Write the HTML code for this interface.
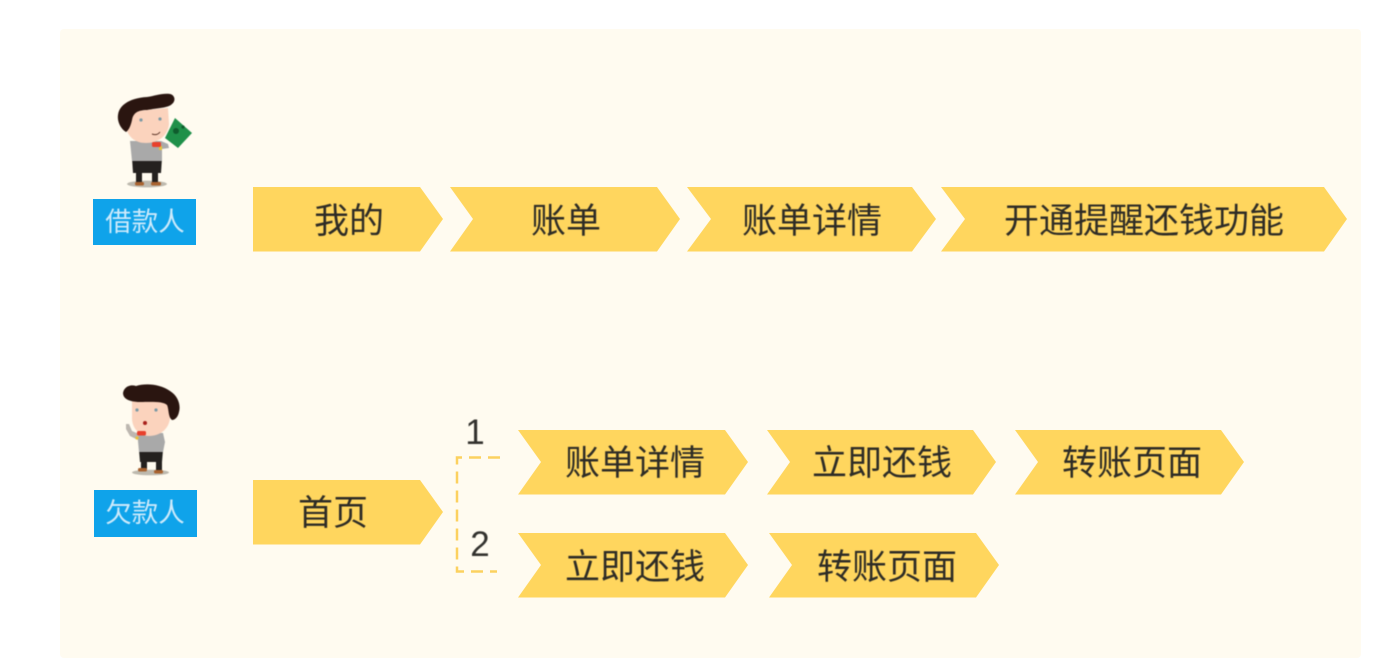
<!DOCTYPE html>
<html lang="zh">
<head>
<meta charset="utf-8">
<title>借款人 欠款人 流程</title>
<style>
html,body{margin:0;padding:0;background:#fff;width:1400px;height:658px;overflow:hidden}
svg{display:block}
.t{font-family:"Liberation Sans","Noto Sans CJK SC",sans-serif;font-size:35px;fill:#2e2c26;text-anchor:middle}
.l{font-family:"Liberation Sans","Noto Sans CJK SC",sans-serif;font-size:26.5px;fill:#cdeafb;text-anchor:middle}
.n{font-family:"Liberation Sans",sans-serif;font-size:35px;fill:#33322e;text-anchor:middle}
.soft{filter:blur(.45px)}
.softer{filter:blur(.6px)}
</style>
</head>
<body>
<svg width="1400" height="658" viewBox="0 0 1400 658" xmlns="http://www.w3.org/2000/svg">
<rect x="60" y="29" width="1301" height="629" rx="4" fill="#fffbf0"/>

<!-- Character 1 -->
<g class="softer">
<ellipse cx="147" cy="184" rx="20" ry="3.400" fill="#bdb9ae"/>
<path d="M132 158 H162 L161 173 H133 Z" fill="#24211f"/>
<rect x="136" y="170" width="6" height="14" fill="#24211f"/>
<rect x="152" y="170" width="6" height="14" fill="#24211f"/>
<rect x="135" y="182" width="9" height="3.500" rx="1.500" fill="#a8622f"/>
<rect x="151" y="182" width="10" height="3.500" rx="1.500" fill="#a8622f"/>
<path d="M130 141 L161 141 L168 144 L169 148 L162 149 L162 161 L132 161 Z" fill="#a9a9a9"/>
<rect x="159" y="146" width="3" height="4" fill="#e7c23c"/>
<path d="M125 112 L168 108 L169 124 C168 136 158 143 146 143 C134 143 127 136 125 124 Z" fill="#fbd3bd"/>
<path d="M118 115 C119 105 130 98 147 97 C155 96 162 93 170 94 C175 95 176 101 172 104 C168 108 158 108 147 110 C138 110 133 113 132 120 C131 125 129 130 126 132 C121 129 117 122 118 115 Z" fill="#2a1510"/>
<rect x="152" y="142" width="9" height="5" rx="1.500" fill="#e8402c"/>
<polygon points="175,118 192,133 178,148 165,138" fill="#1f9049"/>
<circle cx="176" cy="131" r="3" fill="#0f5c2d"/>
<circle cx="183" cy="127" r="1.600" fill="#0f5c2d"/>
<circle cx="141" cy="120" r="1.600" fill="#7b9aa5"/>
<circle cx="160" cy="119" r="1.600" fill="#7b9aa5"/>
<path d="M152 134 Q157 136 160 132" stroke="#5b3326" stroke-width="1" fill="none"/>
</g>
<rect x="93" y="199" width="103" height="46" fill="#0fa3ea"/>
<text class="l soft" x="145" y="231">借款人</text>

<!-- Character 2 -->
<g class="softer">
<ellipse cx="150.500" cy="472.500" rx="18.500" ry="2.800" fill="#bdb9ae"/>
<path d="M139 450 H163 L162 462 H140 Z" fill="#24211f"/>
<rect x="141" y="460" width="6" height="10" fill="#24211f"/>
<rect x="156" y="460" width="6" height="11" fill="#24211f"/>
<rect x="138" y="468" width="9" height="3.500" rx="1.500" fill="#a8622f"/>
<rect x="154" y="470" width="9" height="3.500" rx="1.500" fill="#a8622f"/>
<path d="M138 433 L163 433 L165 442 L163 452 L139 452 L138 441 Z" fill="#a9a9a9"/>
<path d="M126 424 L129 424 L132 431 L139 434 L138 440 L130 436 L126 429 Z" fill="#bdb7b0"/>
<circle cx="137" cy="438" r="1.600" fill="#e7c23c"/>
<path d="M132 400 H170 V418 C169 429 160 436 149 436 C139 436 132 428 132 418 Z" fill="#fbd3bd"/>
<path d="M123 393 C124 387 130 384 136 386 C146 383 160 384 170 391 C178 396 181 405 179 412 C178 417 175 420 172 420 C168 417 169 409 167 405 C163 401 150 402 140 402 C132 402 123 400 123 393 Z" fill="#2a1510"/>
<rect x="137" y="431" width="9" height="4.500" rx="1.500" fill="#e8402c"/>
<circle cx="137" cy="410" r="1.600" fill="#7b9aa5"/>
<circle cx="156" cy="410" r="1.600" fill="#7b9aa5"/>
<ellipse cx="145" cy="423" rx="2" ry="2" fill="#a8201c"/>
</g>
<rect x="94" y="490" width="103" height="47" fill="#0fa3ea"/>
<text class="l soft" x="145" y="522">欠款人</text>

<!-- Chevrons -->
<g fill="#ffd65e">
<polygon points="253,187 420,187 443,219 420,251.500 253,251.500"/>
<polygon points="450,187 657,187 680,219 657,251.500 450,251.500 473,219"/>
<polygon points="687,187 912,187 936,219 912,251.500 687,251.500 711,219"/>
<polygon points="941,187 1324,187 1347,219 1324,251.500 941,251.500 965,219"/>
<polygon points="253,480 420,480 443,512 420,544.500 253,544.500"/>
<polygon points="518,430 725,430 748,462 725,494.500 518,494.500 541,462"/>
<polygon points="767,430 973,430 996,462 973,494.500 767,494.500 790,462"/>
<polygon points="1015,430 1221,430 1244,462 1221,494.500 1015,494.500 1038,462"/>
<polygon points="518,533 725,533 748,565 725,597.500 518,597.500 541,565"/>
<polygon points="769,533 976,533 999,565 976,597.500 769,597.500 792,565"/>
</g>

<g class="soft">
<text class="t" x="349" y="233">我的</text>
<text class="t" x="566" y="233">账单</text>
<text class="t" x="812" y="233">账单详情</text>
<text class="t" x="1144" y="233">开通提醒还钱功能</text>
<text class="t" x="333" y="525">首页</text>
<text class="t" x="635" y="475">账单详情</text>
<text class="t" x="882" y="475">立即还钱</text>
<text class="t" x="1132" y="475">转账页面</text>
<text class="t" x="635" y="579">立即还钱</text>
<text class="t" x="887" y="579">转账页面</text>
<text class="n" x="475" y="444">1</text>
<text class="n" x="480" y="556">2</text>
</g>

<!-- Connector -->
<path d="M500 457.500 H457 V571.500 H497" fill="none" stroke="#fcd15f" stroke-width="2.500" stroke-dasharray="12 7"/>
</svg>
</body>
</html>
